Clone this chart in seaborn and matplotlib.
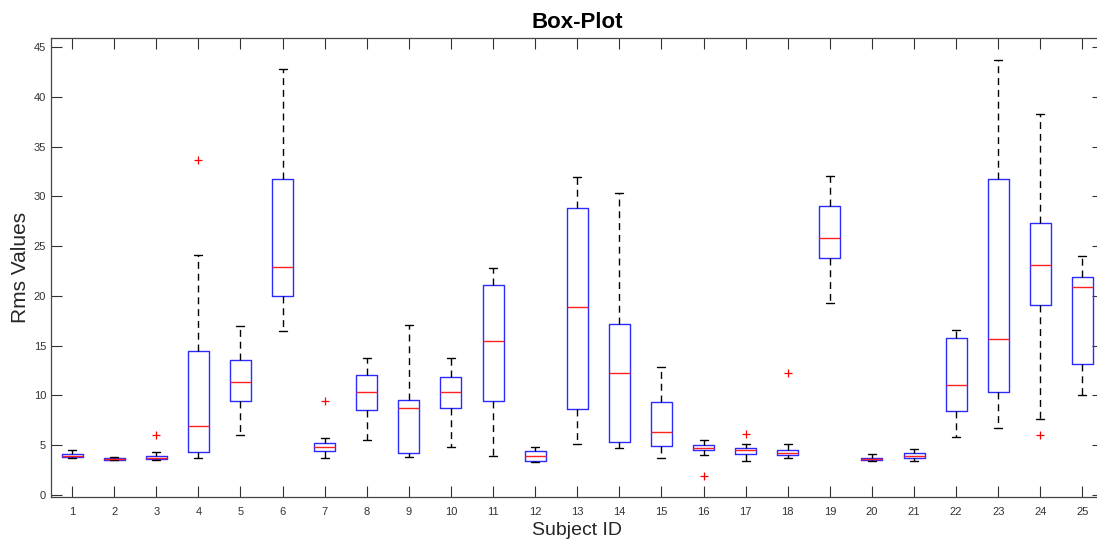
import numpy as np
import pandas as pd
import matplotlib
matplotlib.use('Agg')
import matplotlib.pyplot as plt
import seaborn as sns

# Box statistics (one value per subject)
subject_ids = list(range(1, 26))
whisker_lo = [3.7, 3.5, 3.5, 3.7, 6.0, 16.5, 3.75, 5.5, 3.85, 4.85, 3.9, 3.3, 5.15,
              4.7, 3.75, 4.0, 3.45, 3.75, 19.3, 3.45, 3.45, 5.8, 6.7, 7.65, 10.0]
q1 = [3.78, 3.55, 3.6, 4.35, 9.4, 19.95, 4.45, 8.55, 4.25, 8.7, 9.4, 3.45, 8.6,
      5.3, 4.9, 4.55, 4.15, 4.0, 23.8, 3.55, 3.75, 8.45, 10.3, 19.1, 13.2]
median = [3.92, 3.62, 3.7, 6.95, 11.35, 22.95, 4.8, 10.35, 8.7, 10.35, 15.45, 3.9, 18.9,
          12.3, 6.35, 4.7, 4.55, 4.2, 25.8, 3.65, 3.9, 11.0, 15.7, 23.1, 20.9]
q3 = [4.08, 3.7, 3.95, 14.5, 13.55, 31.75, 5.2, 12.05, 9.55, 11.85, 21.1, 4.4, 28.8,
      17.15, 9.3, 5.0, 4.75, 4.5, 29.05, 3.75, 4.2, 15.8, 31.7, 27.35, 21.9]
whisker_hi = [4.55, 3.8, 4.3, 24.1, 16.95, 42.8, 5.75, 13.75, 17.05, 13.75, 22.8, 4.8, 31.95,
              30.35, 12.85, 5.5, 5.15, 5.1, 32.05, 4.1, 4.6, 16.6, 43.7, 38.3, 24.05]

outlier_ids = [3, 4, 7, 16, 17, 18, 24]
outlier_vals = [6.0, 33.65, 9.45, 1.95, 6.15, 12.3, 6.05]

labels = [str(i) for i in subject_ids]

# long-form table: five stat points per subject, whiskers at min/max
rows = []
for lab, a, b, c, d, e in zip(labels, whisker_lo, q1, median, q3, whisker_hi):
    for v in (a, b, c, d, e):
        rows.append({'subject': lab, 'rms': v})
df = pd.DataFrame(rows)

sns.set_style('white')
plt.rcParams['font.family'] = ['Liberation Sans', 'DejaVu Sans']

fig = plt.figure(figsize=(10.97, 5.40), dpi=100)
ax = fig.add_axes([51 / 1097, 43 / 540, 1052.5 / 1097, 459 / 540])

sns.boxplot(data=df, x='subject', y='rms', order=labels, whis=(0, 100),
            fill=False, width=0.5, linewidth=1.0, ax=ax,
            boxprops={'color': '#2b2bff'},
            medianprops={'color': '#ff2020'},
            whiskerprops={'color': 'black', 'linestyle': (0, (5, 3.5))},
            capprops={'color': 'black'},
            capwidths=0.19)

pos = [labels.index(str(i)) for i in outlier_ids]
sns.scatterplot(x=pos, y=outlier_vals, marker='+', color='red', s=40,
                linewidth=0.9, ax=ax, zorder=3)

ax.set_xlim(-0.5, 24.5)
ax.set_ylim(-0.2, 45.9)
ax.set_yticks(np.arange(0, 46, 5))
ax.set_xticks(range(len(labels)))
ax.set_xticklabels(labels)

for s in ax.spines.values():
    s.set_color('#444444')
    s.set_linewidth(0.9)
ax.tick_params(direction='in', length=8, width=0.8, color='#333333',
               labelsize=8, labelcolor='#333333', top=True, right=True,
               bottom=True, left=True)
ax.tick_params(axis='x', pad=7)

ax.set_title('Box-Plot', fontsize=16, fontweight='bold', color='black', pad=7)
ax.set_xlabel('Subject ID', fontsize=14, color='#262626', labelpad=4)
ax.set_ylabel('Rms Values', fontsize=15, color='#262626', labelpad=3)

fig.savefig('out.png', dpi=100)
